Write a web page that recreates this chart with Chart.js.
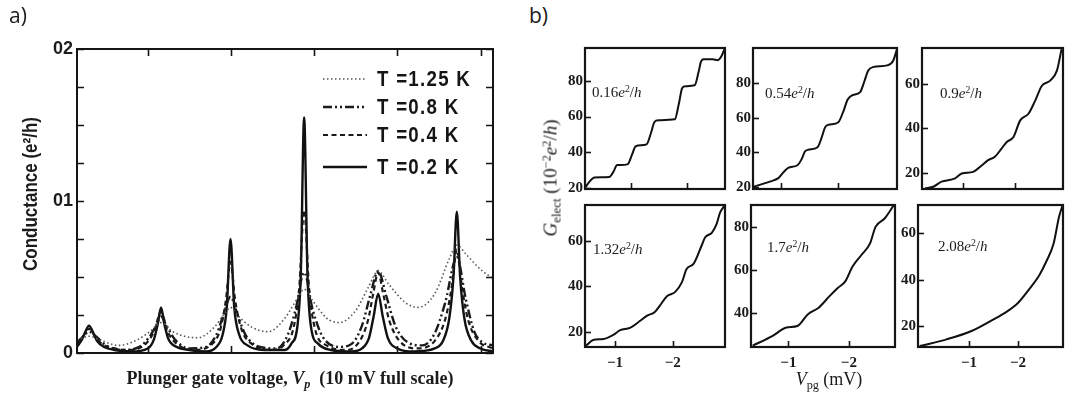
<!DOCTYPE html>
<html>
<head>
<meta charset="utf-8">
<script src="https://cdn.jsdelivr.net/npm/chart.js@4.4.1/dist/chart.umd.min.js"></script>
<style>
  html, body { margin: 0; padding: 0; background: #fff; }
  body { position: relative; width: 1065px; height: 400px; overflow: hidden; }
  canvas { position: absolute; }
  .t { position: absolute; white-space: nowrap; line-height: 1; color: #1b1b1b; }
  .serif { font-family: "Liberation Serif", "DejaVu Serif", serif; }
  .t sup { font-size: 0.65em; vertical-align: 0.5em; line-height: 0; }
  .t sub { font-size: 0.68em; vertical-align: -0.3em; line-height: 0; }
  .note { font-size: 15px; }
</style>
</head>
<body>
<canvas id="pa"></canvas>
<canvas id="b1"></canvas>
<canvas id="b2"></canvas>
<canvas id="b3"></canvas>
<canvas id="b4"></canvas>
<canvas id="b5"></canvas>
<canvas id="b6"></canvas>

<div class="t" style="left:9px;top:5px;font:21px/1 'Open Sans',sans-serif">a)</div>
<div class="t" style="left:529px;top:5px;font:21px/1 'Open Sans',sans-serif">b)</div>
<div class="t" style="left:30px;top:194px;transform:translate(-50%,-50%) rotate(-90deg) scaleX(0.85);font:bold 20px/1 'Liberation Sans',sans-serif">Conductance (e²/h)</div>
<div class="t serif" style="left:290px;top:378px;transform:translate(-50%,-50%);font-weight:bold;font-size:18px">Plunger gate voltage, <i>V<sub>p</sub></i>&nbsp; (10 mV full scale)</div>
<div class="t serif" style="left:550px;top:178px;transform:translate(-50%,-50%) rotate(-90deg);font-size:19px"><i>G</i><sub>elect</sub> (10<sup>−2</sup><i>e</i><sup>2</sup>/<i>h</i>)</div>
<div class="t serif" style="left:829px;top:379px;transform:translate(-50%,-50%);font-size:18px"><i>V</i><sub>pg</sub> (mV)</div>

<div class="t serif note" style="left:592px;top:85px">0.16<i>e</i><sup>2</sup>/<i>h</i></div>
<div class="t serif note" style="left:765px;top:86px">0.54<i>e</i><sup>2</sup>/<i>h</i></div>
<div class="t serif note" style="left:940px;top:86px">0.9<i>e</i><sup>2</sup>/<i>h</i></div>
<div class="t serif note" style="left:593px;top:242px">1.32<i>e</i><sup>2</sup>/<i>h</i></div>
<div class="t serif note" style="left:767px;top:240px">1.7<i>e</i><sup>2</sup>/<i>h</i></div>
<div class="t serif note" style="left:938px;top:239px">2.08<i>e</i><sup>2</sup>/<i>h</i></div>

<script>
// ---- panel a: conductance peaks at four temperatures ----
var temps = ['T =1.25 K', 'T =0.8 K', 'T =0.4 K', 'T =0.2 K'];

var t125x = [0, 0.29, 0.6, 1.0, 1.4, 1.75, 2.02, 2.3, 2.9, 3.3, 3.55, 3.69, 3.85, 4.2, 4.6, 5.0, 5.3, 5.46, 5.65, 6.0, 6.3, 6.7, 7.0, 7.24, 7.5, 7.9, 8.2, 8.6, 8.95, 9.13, 9.35, 9.7, 10];
var t125y = [0.00085, 0.0011, 0.0008, 0.0005, 0.0008, 0.0014, 0.0020, 0.0014, 0.0010, 0.0017, 0.0026, 0.0030, 0.0025, 0.0017, 0.0014, 0.0023, 0.0036, 0.0042, 0.0035, 0.0023, 0.0020, 0.0028, 0.0043, 0.0054, 0.0045, 0.0033, 0.0030, 0.0039, 0.0062, 0.0071, 0.0065, 0.0055, 0.0049];

var t08x = [0, 0.15, 0.29, 0.45, 0.7, 1.1, 1.5, 1.75, 1.9, 2.02, 2.15, 2.35, 2.7, 3.1, 3.35, 3.52, 3.69, 3.86, 4.05, 4.4, 4.8, 5.05, 5.25, 5.46, 5.67, 5.9, 6.3, 6.6, 6.85, 7.05, 7.24, 7.43, 7.65, 7.95, 8.3, 8.6, 8.85, 9.13, 9.35, 9.55, 9.75, 10];
var t08y = [0.0007, 0.0011, 0.0014, 0.0011, 0.0005, 0.0002, 0.0004, 0.0011, 0.0018, 0.0024, 0.0018, 0.0009, 0.0003, 0.0004, 0.0012, 0.0025, 0.0037, 0.0025, 0.0012, 0.0004, 0.0003, 0.0011, 0.0028, 0.0053, 0.0028, 0.0011, 0.0004, 0.0006, 0.0018, 0.0038, 0.0054, 0.0038, 0.0018, 0.0007, 0.0005, 0.0013, 0.0033, 0.0063, 0.0035, 0.0014, 0.0007, 0.0005];

var t04x = [0, 0.15, 0.29, 0.43, 0.6, 0.9, 1.3, 1.65, 1.85, 2.02, 2.18, 2.4, 2.8, 3.25, 3.45, 3.58, 3.69, 3.8, 3.95, 4.2, 4.7, 5.0, 5.2, 5.34, 5.46, 5.58, 5.72, 6.0, 6.5, 6.8, 7.0, 7.12, 7.24, 7.36, 7.5, 7.75, 8.2, 8.6, 8.85, 9.0, 9.13, 9.26, 9.4, 9.65, 10];
var t04y = [0.0006, 0.0011, 0.0016, 0.0011, 0.0006, 0.0003, 0.0002, 0.0006, 0.0014, 0.0027, 0.0014, 0.0006, 0.0002, 0.0006, 0.0016, 0.0035, 0.0060, 0.0035, 0.0016, 0.0006, 0.0002, 0.0006, 0.0016, 0.0042, 0.0094, 0.0042, 0.0016, 0.0005, 0.0002, 0.0008, 0.0022, 0.0039, 0.0053, 0.0039, 0.0022, 0.0008, 0.0003, 0.0008, 0.0022, 0.0042, 0.0068, 0.0042, 0.0022, 0.0008, 0.0003];

var t02x = [0, 0.12, 0.2, 0.29, 0.38, 0.48, 0.65, 0.9, 1.3, 1.7, 1.85, 1.94, 2.02, 2.1, 2.2, 2.4, 2.7, 3.1, 3.35, 3.5, 3.6, 3.69, 3.78, 3.9, 4.1, 4.5, 5.0, 5.15, 5.3, 5.38, 5.46, 5.54, 5.62, 5.8, 6.1, 6.6, 6.85, 7.02, 7.13, 7.24, 7.35, 7.47, 7.7, 8.1, 8.6, 8.8, 8.95, 9.05, 9.13, 9.21, 9.31, 9.48, 9.7, 10];
var t02y = [0.0004, 0.0009, 0.0014, 0.0018, 0.0014, 0.0008, 0.0004, 0.0002, 0.0001, 0.0003, 0.0009, 0.0019, 0.0030, 0.0019, 0.0009, 0.0004, 0.0002, 0.0001, 0.0004, 0.0012, 0.0030, 0.0075, 0.0030, 0.0012, 0.0005, 0.0002, 0.0002, 0.0006, 0.0018, 0.0052, 0.0155, 0.0052, 0.0018, 0.0006, 0.0002, 0.0001, 0.0003, 0.0010, 0.0024, 0.0039, 0.0024, 0.0010, 0.0003, 0.0001, 0.0003, 0.0008, 0.0023, 0.0050, 0.0093, 0.0050, 0.0023, 0.0008, 0.0003, 0.0001];

var aXTicks = [1.7, 3.7, 5.7, 7.7, 9.7];
var aYTicks = [0, 0.0025, 0.005, 0.0075, 0.01, 0.0125, 0.015, 0.0175, 0.02];
var aYLabels = ['0', '', '', '', '01', '', '', '', '02'];

// ---- panel b: G_elect vs V_pg for six couplings ----
var g016x = [-0.19, -0.28, -0.36, -0.62, -0.70, -0.76, -0.82, -0.95, -1.02, -1.09, -1.28, -1.36, -1.42, -1.49, -1.78, -1.85, -1.91, -1.97, -2.13, -2.20, -2.24, -2.29, -2.45, -2.54, -2.60, -2.66];
var g016y = [20, 24, 26, 26.3, 29.5, 33, 33, 33.5, 38.5, 43.5, 44.5, 51, 57, 58, 58.5, 67, 76, 77, 77.5, 85, 90.5, 92, 92, 91.5, 93.5, 98];

var g054x = [-0.52, -0.81, -0.96, -1.05, -1.13, -1.29, -1.37, -1.42, -1.48, -1.64, -1.71, -1.77, -1.83, -2.0, -2.09, -2.16, -2.23, -2.38, -2.45, -2.52, -2.60, -2.85, -2.95, -3.02];
var g054y = [20, 23, 25, 28.5, 31, 32.5, 36.5, 40.5, 41.5, 43, 48.5, 54.5, 56, 57.5, 64, 70.5, 73, 75, 81, 87.5, 89.5, 90.5, 93, 100];

var g09x = [-0.26, -0.42, -0.58, -0.84, -0.97, -1.19, -1.36, -1.48, -1.61, -1.74, -1.84, -1.97, -2.10, -2.26, -2.39, -2.52, -2.68, -2.81, -2.90];
var g09y = [13.0, 13.7, 16, 17.5, 19.7, 20.4, 23.4, 25.7, 27.2, 30.9, 33.9, 36.1, 43.6, 46.6, 52.5, 59.2, 61.5, 66, 75.7];

var g132x = [-0.50, -0.62, -0.80, -0.97, -1.09, -1.26, -1.43, -1.55, -1.69, -1.78, -1.90, -2.04, -2.16, -2.24, -2.36, -2.50, -2.56, -2.68, -2.76, -2.82, -2.90];
var g132y = [13.9, 16.4, 16.8, 18.6, 20.7, 21.7, 24.7, 27, 28.7, 31.6, 35.6, 37.4, 41.8, 47.6, 49.8, 57.8, 61.4, 63.6, 67.3, 72.3, 75.5];

var g17x = [-0.41, -0.74, -0.97, -1.15, -1.32, -1.50, -1.68, -1.82, -1.94, -2.06, -2.21, -2.35, -2.44, -2.59, -2.74];
var g17y = [24.6, 29.2, 33.1, 33.8, 39.2, 42.3, 47.7, 51.6, 54.6, 61.5, 67, 72.3, 80, 83.9, 90];

var g208x = [0.01, -0.54, -1.05, -1.49, -1.78, -2.0, -2.22, -2.44, -2.58, -2.73, -2.84, -2.91];
var g208y = [11.4, 14.3, 17.9, 22.8, 26.4, 30, 35.7, 42.1, 47.9, 55.7, 67.1, 72];

var bXTicks = [-1, -2];

function pts(xs, ys) {
    return xs.map(function (x, i) { return { x: x, y: ys[i] }; });
}

// inward tick marks + heavy frame, like the printed figure
var frame = {
    id: 'frame',
    afterDatasetsDraw: function (chart, args, o) {
        var ctx = chart.ctx, a = chart.chartArea;
        ctx.save();
        ctx.strokeStyle = '#151515';
        ctx.lineWidth = o.tickWidth;
        ['x', 'y'].forEach(function (id) {
            var s = chart.scales[id];
            s.ticks.forEach(function (t) {
                var p = Math.round(s.getPixelForValue(t.value)) + 0.5;
                ctx.beginPath();
                if (id === 'x') {
                    ctx.moveTo(p, a.bottom); ctx.lineTo(p, a.bottom - o.len);
                    if (o.mirror) { ctx.moveTo(p, a.top); ctx.lineTo(p, a.top + o.len); }
                } else {
                    ctx.moveTo(a.left, p); ctx.lineTo(a.left + o.len, p);
                    if (o.mirror) { ctx.moveTo(a.right, p); ctx.lineTo(a.right - o.len, p); }
                }
                ctx.stroke();
            });
        });
        ctx.lineWidth = o.border;
        ctx.strokeRect(a.left, a.top, a.right - a.left, a.bottom - a.top);
        ctx.restore();
    }
};

// line-sample key drawn inside panel a
var keyA = {
    id: 'keyA',
    afterDatasetsDraw: function (chart) {
        var ctx = chart.ctx;
        var rows = [79, 107, 135, 167];
        ctx.save();
        chart.data.datasets.forEach(function (d, i) {
            var y = rows[i];
            ctx.strokeStyle = d.borderColor;
            ctx.lineWidth = d.borderWidth;
            ctx.setLineDash(d.borderDash);
            ctx.beginPath();
            ctx.moveTo(323, y); ctx.lineTo(367, y);
            ctx.stroke();
            ctx.setLineDash([]);
            // condensed look of the original lettering
            ctx.save();
            ctx.translate(377, y + 1);
            ctx.scale(0.85, 1);
            ctx.fillStyle = '#151515';
            ctx.font = 'bold 22px "Liberation Sans", sans-serif';
            if ('letterSpacing' in ctx) ctx.letterSpacing = '1.5px';
            ctx.textBaseline = 'middle';
            ctx.fillText(d.label, 0, 0);
            ctx.restore();
        });
        ctx.restore();
    }
};

var aStyles = [
    { borderDash: [1.5, 2.5], borderWidth: 1.6, borderColor: '#555' },
    { borderDash: [9, 3, 2, 3, 2, 3], borderWidth: 2.4, borderColor: '#1a1a1a' },
    { borderDash: [5, 3.5], borderWidth: 2.2, borderColor: '#1a1a1a' },
    { borderDash: [], borderWidth: 2.4, borderColor: '#111' }
];
var aSeries = [pts(t125x, t125y), pts(t08x, t08y), pts(t04x, t04y), pts(t02x, t02y)];

var ca = document.getElementById('pa');
ca.width = 510; ca.height = 400;
ca.style.left = '0px'; ca.style.top = '0px';
new Chart(ca, {
    type: 'line',
    data: {
        datasets: aSeries.map(function (s, i) {
            return {
                label: temps[i], data: s,
                borderColor: aStyles[i].borderColor,
                borderWidth: aStyles[i].borderWidth,
                borderDash: aStyles[i].borderDash,
                pointRadius: 0, fill: false,
                cubicInterpolationMode: 'monotone'
            };
        })
    },
    options: {
        responsive: false, animation: false, events: [],
        layout: { padding: { left: 0, top: 49, right: 17, bottom: 0 } },
        plugins: { legend: { display: false }, tooltip: { enabled: false },
                   frame: { len: 7, tickWidth: 1.6, border: 2, mirror: true } },
        scales: {
            x: {
                type: 'linear', min: 0, max: 10,
                afterBuildTicks: function (s) { s.ticks = aXTicks.map(function (v) { return { value: v }; }); },
                afterFit: function (s) { s.height = 47; },
                ticks: { autoSkip: false, callback: function () { return ''; } },
                grid: { display: false, drawTicks: false }, border: { display: false }
            },
            y: {
                min: 0, max: 0.02,
                afterBuildTicks: function (s) { s.ticks = aYTicks.map(function (v) { return { value: v }; }); },
                afterFit: function (s) { s.width = 77; },
                ticks: {
                    autoSkip: false, padding: 4, color: '#1b1b1b',
                    font: { family: 'Liberation Sans', size: 18, weight: 'bold' },
                    callback: function (v, i) { return aYLabels[i]; }
                },
                grid: { display: false, drawTicks: false }, border: { display: false }
            }
        }
    },
    plugins: [frame, keyA]
});

// one small framed panel of figure b
function subplot(id, box, xr, yr, series, yTicks, showX) {
    var c = document.getElementById(id);
    c.width = box[1] - box[0] + 50;
    c.height = box[3] - box[2] + 40;
    c.style.left = (box[0] - 40) + 'px';
    c.style.top = (box[2] - 10) + 'px';
    var tickFont = { family: 'Liberation Serif', size: 15, weight: 'bold' };
    new Chart(c, {
        type: 'line',
        data: { datasets: [{
            data: series, borderColor: '#111', borderWidth: 2,
            pointRadius: 0, fill: false, cubicInterpolationMode: 'monotone'
        }] },
        options: {
            responsive: false, animation: false, events: [],
            layout: { padding: { left: 0, top: 10, right: 10, bottom: 0 } },
            plugins: { legend: { display: false }, tooltip: { enabled: false },
                       frame: { len: 6, tickWidth: 1.6, border: 2.2, mirror: false } },
            scales: {
                x: {
                    type: 'linear', reverse: true, min: xr[0], max: xr[1],
                    afterBuildTicks: function (s) { s.ticks = bXTicks.map(function (v) { return { value: v }; }); },
                    afterFit: function (s) { s.height = 30; },
                    ticks: {
                        autoSkip: false, padding: 7, color: '#1b1b1b', font: tickFont, maxRotation: 0,
                        callback: function (v) { return showX ? '\u2212' + Math.abs(v) : ''; }
                    },
                    grid: { display: false, drawTicks: false }, border: { display: false }
                },
                y: {
                    min: yr[0], max: yr[1],
                    afterBuildTicks: function (s) { s.ticks = yTicks.map(function (v) { return { value: v }; }); },
                    afterFit: function (s) { s.width = 40; },
                    ticks: { autoSkip: false, padding: 2, color: '#1b1b1b', font: tickFont },
                    grid: { display: false, drawTicks: false }, border: { display: false }
                }
            }
        },
        plugins: [frame]
    });
}

subplot('b1', [585, 725, 47, 189], [-2.666, -0.193], [19.6, 98.3], pts(g016x, g016y), [20, 40, 60, 80], false);
subplot('b2', [753, 897, 47, 189], [-3.019, -0.519], [18.7, 100.6], pts(g054x, g054y), [20, 40, 60, 80], false);
subplot('b3', [922, 1063, 47, 189], [-2.928, -0.201], [12.7, 76.2], pts(g09x, g09y), [20, 40, 60], false);
subplot('b4', [585, 725, 204, 347], [-2.906, -0.48], [13.3, 75.7], pts(g132x, g132y), [20, 40, 60], true);
subplot('b5', [751, 895, 204, 347], [-2.762, -0.382], [24.0, 90.2], pts(g17x, g17y), [40, 60, 80], true);
subplot('b6', [918, 1063, 204, 347], [-2.922, 0.045], [11.0, 72.3], pts(g208x, g208y), [20, 40, 60], true);
</script>
</body>
</html>
